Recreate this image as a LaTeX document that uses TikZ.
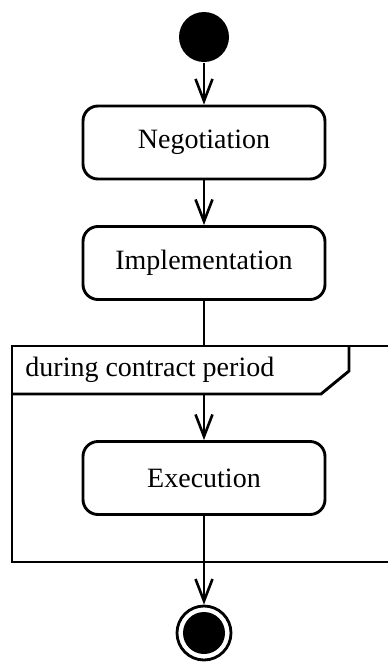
\documentclass[tikz,border=0pt]{standalone}
\usepackage{fontspec}
\setmainfont{Liberation Serif}
\usetikzlibrary{arrows.meta}
\begin{document}
\begin{tikzpicture}[x=1pt,y=-1pt,
  line width=2.9pt,
  every node/.style={font=\fontsize{28}{34}\selectfont},
  action/.style={draw, rounded corners=15pt, minimum width=242pt, minimum height=73pt, inner sep=0pt},
  flow/.style={-{Straight Barb[length=22pt,width=17pt,line width=2.6pt]}},
  initial/.style={circle, fill=black, minimum size=50pt, inner sep=0pt},
  final/.style={circle, draw, minimum size=54pt, inner sep=0pt, line width=2.8pt,
    path picture={\fill (path picture bounding box.center) circle (21pt);}}]
  \useasboundingbox (0,0) rectangle (388,662);

  % initial and final states
  \node[initial] (start) at (204,37) {};
  \node[final] (stop) at (204,633) {};

  % actions
  \node[action] (neg)  at (204,142.5) {Negotiation};
  \node[action] (impl) at (204,263) {Implementation};
  \node[action] (exe)  at (204,478) {Execution};

  % interruptible region with its label tab
  \draw (392,346) -- (12,346) -- (12,562) -- (392,562);
  \draw (12,394) -- (321,394) -- (349,371) -- (349,346);
  \node[anchor=west, inner sep=0pt] (period) at (24,370) {during contract period};
  \coordinate (regtop) at (204,346);
  \coordinate (tabbot) at (204,394);
  \coordinate (regbot) at (204,562);

  % control flow
  \draw[flow] (start) -- (neg);
  \draw[flow] (neg) -- (impl);
  \draw (impl) -- (regtop);
  \draw[flow] (tabbot) -- (exe);
  \draw (exe) -- (regbot);
  \draw[flow] (regbot) -- (stop);
\end{tikzpicture}
\end{document}
